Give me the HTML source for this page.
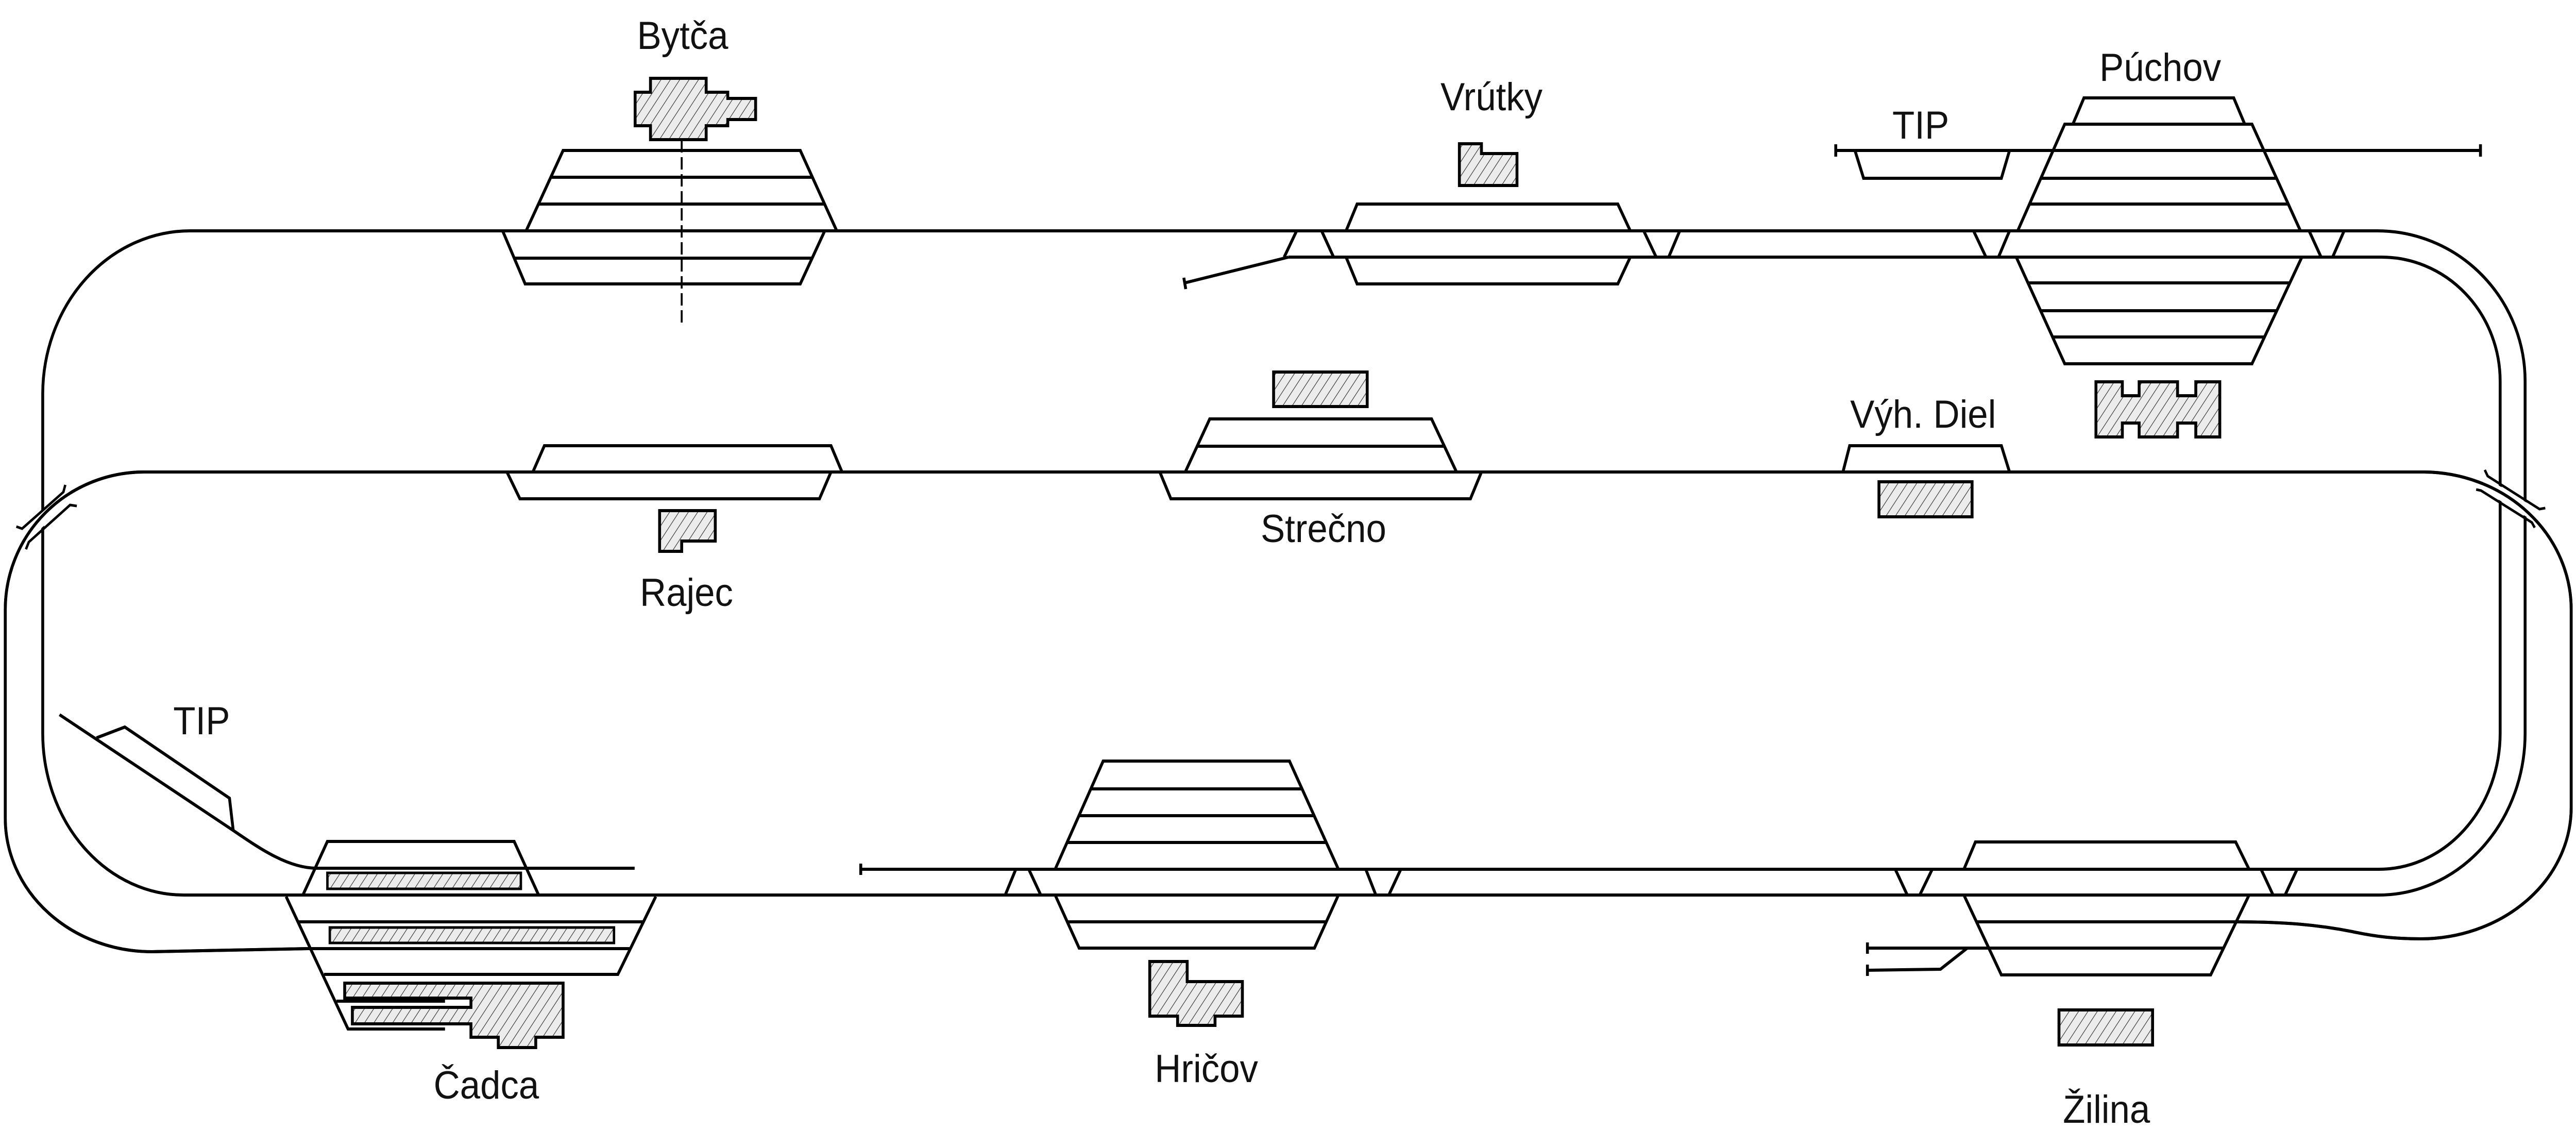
<!DOCTYPE html>
<html>
<head>
<meta charset="utf-8">
<style>
html,body{margin:0;padding:0;background:#fff;width:100%;height:100%;overflow:hidden;}
svg{display:block;width:100vw;height:100vh;}
text{font-family:"Liberation Sans",sans-serif;font-size:76px;fill:#111;text-anchor:middle;}
</style>
</head>
<body>
<svg viewBox="0 0 5366 2226" preserveAspectRatio="none" xmlns="http://www.w3.org/2000/svg">
<defs>
<pattern id="h" patternUnits="userSpaceOnUse" width="16" height="16" patternTransform="rotate(35)">
<rect width="16" height="16" fill="#ececec"/>
<line x1="0" y1="0" x2="0" y2="16" stroke="#333" stroke-width="2.4"/>
</pattern>
<path id="l916" d="M1312 1841 L641 1841 L316 1847 A305 259 0 0 1 11 1588 L11 1183 A289 267 0 0 1 300 916 L5050 916 A309 267 0 0 1 5356 1183 L5356 1567 A314 255 0 0 1 5042 1822 C4990 1822 4950 1818 4900 1808 C4830 1795 4760 1789 4657 1789"/>
</defs>
<rect width="5366" height="2226" fill="#fff"/>

<g fill="none" stroke="#000" stroke-width="6" stroke-linejoin="miter">
<path d="M396 448 L4952 448 A308 292 0 0 1 5260 740 L5260 1423 A305 314 0 0 1 4955 1737 L383 1737 A294 314 0 0 1 89 1423 L89 765 A307 317 0 0 1 396 448 Z"/>
<path d="M2684 499 L4961 499 A247 241 0 0 1 5208 740 L5208 1423 A253 264 0 0 1 4955 1687 L1793 1687"/>
<path d="M1793 1676 L1793 1698"/>
<use href="#l916"/>
<path d="M124 1387 L488 1613 C540 1646 600 1685 660 1685 L1322 1685"/>
<path d="M201 1432 L260 1411 L478 1549 L486 1613"/>
<path d="M3824 292 L5167 292 M3824 280 L3824 304 M5167 280 L5167 304"/>
<path d="M3864 292 L3882 346 L4169 346 L4186 292"/>
<path d="M2684 499 L2468 549 M2466 539 L2470 561"/>
<path d="M4142 1840 L3890 1840 M3890 1829 L3890 1851"/>
<path d="M4098 1840 L4042 1881 L3890 1883 M3890 1872 L3890 1894"/>

<path d="M1096 448 L1173 292 L1667 292 L1743 448 M1147 344 H1692 M1122 396 H1718"/>
<path d="M1047 448 L1094 551 L1667 551 L1718 448 M1071 501 H1692"/>
<path d="M2804 448 L2827 396 L3370 396 L3396 448"/>
<path d="M2701 448 L2675 499 M2753 448 L2778 499 M3424 448 L3450 499 M3499 448 L3476 499"/>
<path d="M2804 499 L2827 551 L3370 551 L3396 499"/>
<path d="M2469 916 L2520 813 L2982 813 L3034 916 M2494 866 H3009"/>
<path d="M2416 916 L2439 968 L3063 968 L3086 916"/>
<path d="M1110 916 L1134 865 L1731 865 L1754 916"/>
<path d="M1056 916 L1083 968 L1707 968 L1731 916"/>
<path d="M3839 916 L3853 865 L4169 865 L4186 916"/>
<path d="M4318 241 L4341 190 L4653 190 L4676 241"/>
<path d="M4203 448 L4301 241 L4691 241 L4792 448 M4251 346 H4742 M4228 396 H4767"/>
<path d="M4111 448 L4137 499 M4186 448 L4163 499 M4810 448 L4835 499 M4883 448 L4859 499"/>
<path d="M4200 499 L4301 706 L4691 706 L4795 499 M4226 549 H4769 M4251 603 H4743 M4276 654 H4717"/>
<path d="M631 1737 L682 1633 L1071 1633 L1122 1737"/>
<path d="M596 1740 L725 1997 L927 1997 M675 1891 L1287 1891 L1366 1740 M620 1789 H1340 M645 1841 H1312 M701 1943 H927"/>
<path d="M2198 1687 L2298 1477 L2686 1477 L2788 1687 M2272 1531 H2712 M2248 1583 H2737 M2223 1635 H2763"/>
<path d="M2116 1687 L2094 1737 M2143 1687 L2168 1737 M2845 1687 L2866 1737 M2918 1687 L2893 1737"/>
<path d="M2198 1737 L2248 1840 L2738 1840 L2788 1737 M2223 1789 H2763"/>
<path d="M4091 1687 L4115 1634 L4657 1634 L4685 1687"/>
<path d="M3948 1687 L3973 1737 M4025 1687 L3999 1737 M4710 1687 L4735 1737 M4785 1687 L4760 1737"/>
<path d="M4091 1737 L4169 1892 L4605 1892 L4685 1737 M4117 1789 H4658 M4143 1840 H4632"/>
</g>

<path d="M1420 272 L1420 629" stroke="#000" stroke-width="4" stroke-dasharray="24 9" fill="none"/>

<g fill="none">
<path d="M48 1041 L148 958" stroke="#fff" stroke-width="24"/>
<path d="M5172 937 L5287 1003" stroke="#fff" stroke-width="24"/>
</g>
<use href="#l916" fill="none" stroke="#000" stroke-width="6"/>
<g fill="none" stroke="#000" stroke-width="5">
<path d="M34 1022 L46 1026 L132 955 L136 941"/>
<path d="M54 1066 L60 1052 L146 980 L160 982"/>
<path d="M5176 912 L5182 924 L5290 988 L5302 986"/>
<path d="M5158 950 L5168 952 L5274 1014 L5280 1024"/>
</g>

<g fill="url(#h)" stroke="#000" stroke-width="6">
<polygon points="1355,152 1471,152 1471,179 1516,179 1516,191 1574,191 1574,232 1516,232 1516,244 1471,244 1471,271 1355,271 1355,244 1323,244 1323,179 1355,179"/>
<polygon points="3040,279 3086,279 3086,298 3160,298 3160,360 3040,360"/>
<rect x="2653" y="722" width="195" height="67"/>
<polygon points="1374,991 1490,991 1490,1050 1420,1050 1420,1070 1374,1070"/>
<rect x="3914" y="935" width="194" height="68"/>
<polygon points="4366,741 4421,741 4421,768 4456,768 4456,741 4536,741 4536,768 4574,768 4574,741 4624,741 4624,848 4574,848 4574,821 4536,821 4536,848 4456,848 4456,821 4421,821 4421,848 4366,848"/>
<polygon points="2395,1866 2473,1866 2473,1905 2588,1905 2588,1972 2531,1972 2531,1990 2453,1990 2453,1972 2395,1972"/>
<rect x="4289" y="1960" width="195" height="68"/>
<polygon points="718,1908 1173,1908 1173,2013 1116,2013 1116,2033 1038,2033 1038,2013 981,2013 981,1987 734,1987 734,1955 981,1955 981,1937 718,1937"/>
</g>
<g fill="url(#h)" stroke="#000" stroke-width="5">
<rect x="682" y="1694" width="403" height="31"/>
<rect x="687" y="1800" width="592" height="30"/>
</g>

<text x="1422" y="95">Bytča</text>
<text x="3107" y="214">Vrútky</text>
<text x="4500" y="157">Púchov</text>
<text x="4001" y="269">TIP</text>
<text x="4006" y="830">Výh. Diel</text>
<text x="2757" y="1052">Strečno</text>
<text x="1430" y="1176">Rajec</text>
<text x="420" y="1425">TIP</text>
<text x="1013" y="2132">Čadca</text>
<text x="2513" y="2100">Hričov</text>
<text x="4388" y="2179">Žilina</text>
</svg>
</body>
</html>
